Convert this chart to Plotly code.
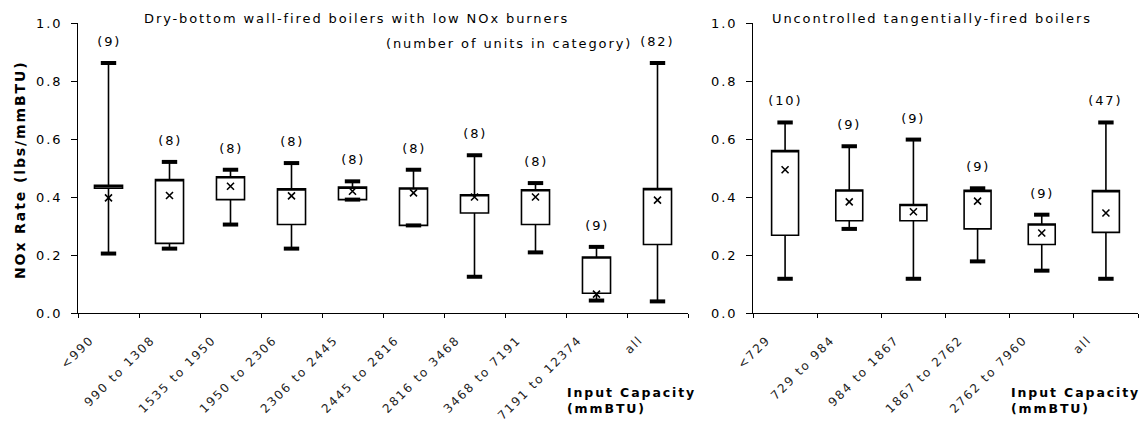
import plotly.graph_objects as go

# ---------------- data ----------------
left_cats = ["<990", "990 to 1308", "1535 to 1950", "1950 to 2306", "2306 to 2445",
             "2445 to 2816", "2816 to 3468", "3468 to 7191", "7191 to 12374", "all"]
left_n = [9, 8, 8, 8, 8, 8, 8, 8, 9, 82]
left_min = [0.205, 0.222, 0.305, 0.222, 0.391, 0.302, 0.125, 0.209, 0.043, 0.040]
left_q1 = [0.430, 0.240, 0.391, 0.305, 0.391, 0.302, 0.345, 0.305, 0.068, 0.236]
left_q3 = [0.440, 0.460, 0.470, 0.428, 0.434, 0.431, 0.408, 0.425, 0.193, 0.429]
left_max = [0.862, 0.521, 0.494, 0.517, 0.454, 0.494, 0.544, 0.448, 0.228, 0.862]
left_mean = [0.397, 0.405, 0.437, 0.404, 0.420, 0.414, 0.400, 0.400, 0.065, 0.389]

right_cats = ["<729", "729 to 984", "984 to 1867", "1867 to 2762", "2762 to 7960", "all"]
right_n = [10, 9, 9, 9, 9, 47]
right_min = [0.118, 0.290, 0.118, 0.178, 0.146, 0.118]
right_q1 = [0.268, 0.318, 0.318, 0.290, 0.236, 0.278]
right_q3 = [0.560, 0.424, 0.374, 0.423, 0.307, 0.422]
right_max = [0.657, 0.575, 0.598, 0.430, 0.339, 0.657]
right_mean = [0.494, 0.383, 0.349, 0.386, 0.276, 0.345]

left_title = "Dry-bottom wall-fired boilers with low NOx burners"
right_title = "Uncontrolled tangentially-fired boilers"
count_note = "(number of units in category)"
y_title = "NOx Rate (lbs/mmBTU)"
x_title = "Input Capacity<br>(mmBTU)"

# ---------------- figure ----------------
FONT = "DejaVu Sans"
W, H = 1141, 429
ML, MR, MT, MB = 78, 3, 23, 116
PW = W - ML - MR
PH = H - MT - MB


def px_x(p):
    return (p - ML) / PW


def px_y(p):
    return (H - MB - p) / PH


fig = go.Figure()


def add_panel(cats, vmin, q1, q3, vmax, vmean, counts, xa, ya, bw):
    fig.add_trace(go.Box(
        x=cats, q1=q1, median=q3, q3=q3, lowerfence=vmin, upperfence=vmax,
        boxpoints=False, fillcolor="white", line=dict(color="black", width=1.6),
        whiskerwidth=0, width=bw, xaxis=xa, yaxis=ya, showlegend=False,
        hoverinfo="skip"))
    fig.add_trace(go.Scatter(
        x=list(cats) + list(cats), y=list(vmin) + list(vmax), mode="markers",
        marker=dict(symbol="line-ew", size=11, line=dict(color="black", width=4)),
        xaxis=xa, yaxis=ya, showlegend=False, hoverinfo="skip"))
    fig.add_trace(go.Scatter(
        x=cats, y=vmean, mode="markers",
        marker=dict(symbol="x-thin", size=7, line=dict(color="black", width=1.6)),
        xaxis=xa, yaxis=ya, showlegend=False, hoverinfo="skip"))
    for c, top, n in zip(cats, vmax, counts):
        fig.add_annotation(x=c, y=top, xref=xa, yref=ya, text=f"({n})",
                           showarrow=False, yanchor="bottom", yshift=12,
                           font=dict(family=FONT, size=13, color="black"))


add_panel(left_cats, left_min, left_q1, left_q3, left_max, left_mean, left_n, "x", "y", 0.46)
add_panel(right_cats, right_min, right_q1, right_q3, right_max, right_mean, right_n, "x2", "y2", 0.42)

axis_common = dict(showline=True, linecolor="black", linewidth=1, ticks="outside",
                   tickcolor="black", ticklen=5, showgrid=False, zeroline=False,
                   tickfont=dict(family=FONT, size=13, color="black"))
xcommon = dict(axis_common, type="category", tickson="boundaries", tickangle=-45,
               ticklen=4, ticklabelstandoff=14, ticklabelshift=-18,
               tickfont=dict(family=FONT, size=12, color="#222"))
ycommon = dict(axis_common, range=[0, 1], dtick=0.2, tickformat=".1f",
               ticklen=6, ticklabelstandoff=6)

fig.update_layout(
    width=W, height=H, margin=dict(l=ML, r=MR, t=MT, b=MB),
    paper_bgcolor="white", plot_bgcolor="white",
    xaxis=dict(xcommon, domain=[0, px_x(688)], anchor="y",
               range=[-0.5, len(left_cats) - 0.5]),
    yaxis=dict(ycommon, anchor="x"),
    xaxis2=dict(xcommon, domain=[px_x(753), 1], anchor="y2",
                range=[-0.5, len(right_cats) - 0.5]),
    yaxis2=dict(ycommon, anchor="x2"),
)

txt = dict(family=FONT, size=13, color="black")
fig.add_annotation(x=px_x(142), y=px_y(18), xref="paper", yref="paper", text=left_title,
                   showarrow=False, xanchor="left", align="left", yanchor="middle", font=txt)
fig.add_annotation(x=px_x(634), y=px_y(43), xref="paper", yref="paper", text=count_note,
                   showarrow=False, xanchor="right", align="right", yanchor="middle", font=txt)
fig.add_annotation(x=px_x(770), y=px_y(18), xref="paper", yref="paper", text=right_title,
                   showarrow=False, xanchor="left", align="left", yanchor="middle", font=txt)
fig.add_annotation(x=px_x(20), y=px_y(170), xref="paper", yref="paper", text=f"<b>{y_title}</b>",
                   showarrow=False, textangle=-90, xanchor="center", yanchor="middle",
                   font=dict(family=FONT, size=14, color="black"))
for xp in (565, 1009):
    fig.add_annotation(x=px_x(xp), y=px_y(400), xref="paper", yref="paper",
                       text=f"<b>{x_title}</b>", showarrow=False, align="left",
                       xanchor="left", yanchor="middle",
                       font=dict(family=FONT, size=12.5, color="black"))

# The reference's lettering is widely spaced; apply a small letter-spacing and
# re-render so Plotly lays out the spaced text.
post = """
var gd = document.getElementById('{plot_id}');
var st = document.createElement('style');
st.textContent = 'svg text { letter-spacing: 1.9px; }';
document.head.appendChild(st);
Plotly.newPlot(gd, gd.data, gd.layout, gd._context);
"""

fig.write_html("out.html", post_script=post)
